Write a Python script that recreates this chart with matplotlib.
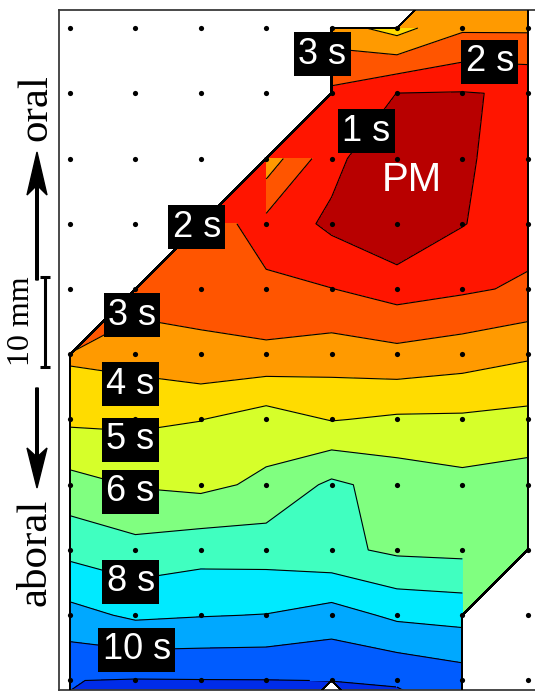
import numpy as np
import matplotlib
matplotlib.use("Agg")
import matplotlib.pyplot as plt
from matplotlib.patches import FancyArrow

nan = np.nan

# electrode grid: 8 columns, rows -1..11 (row 0 = top row of dots)
cols = np.arange(8)
rows = np.arange(-1, 12)

# activation time in seconds per electrode, nan = no recording
act_time = [
    [nan, nan, nan, nan, nan, nan, 3.5, 3.5],              # row -1
    [nan, nan, nan, nan, 3.55, 4.4, 3.15, 3.15],           # row 0
    [nan, nan, nan, nan, 1.8, 0.99, 0.95, 1.1],            # row 1
    [nan, nan, nan, 3.6, 1.32, 0.0, 0.9, 1.35],            # row 2
    [nan, nan, 2.37, 1.7, 0.78, 0.0, 0.955, 1.6],          # row 3
    [nan, 2.5, 2.7, 2.13, 2.02, 1.59, 1.85, 2.15],         # row 4
    [3.82, 3.61, 3.18, 3.245, 3.48, 3.28, 3.52, 3.85],     # row 5
    [4.82, 4.80, 4.98, 5.47, 4.95, 5.15, 5.16, 5.3],       # row 6
    [6.35, 5.93, 5.75, 6.2, 7.2, 6.6, 6.3, 6.5],           # row 7
    [7.72, 7.33, 7.61, 7.56, 7.23, 6.82, 6.74, 6.6],       # row 8
    [9.33, 8.83, 8.95, 9.03, 9.43, 8.80, 8.65, nan],       # row 9
    [10.985, 11.05, 11.03, 11.02, 10.99, 10.9, 10.5, nan], # row 10
    [11.08, 12.0, 12.0, 12.0, nan, 11.9, 11.3, nan],       # row 11
]

# values used only in the half cells along the recording edge
# (row, col, value) -- these cells are filled flat in the original
edge_fix = [(5, 0, 3.02), (2, 3, 1.5), (3, 2, 2.05), (9, 6, 6.8), (0, 5, 3.8)]

fill_levels = [-1, 1, 2, 3, 4, 5, 6, 7, 8, 9, 10, 11, 12.5]
line_levels = [1, 2, 3, 4, 5, 6, 7, 8, 9, 10, 11]
band_colors = ["#B80000", "#FF1500", "#FF5500", "#FF9A00", "#FFDC00",
               "#D6FF2A", "#80FF80", "#40FFC0", "#00EAFF", "#00A8FF",
               "#005CFF", "#002CE8"]

iso_labels = ["3 s", "2 s", "1 s", "2 s", "3 s", "4 s", "5 s", "6 s", "8 s", "10 s"]
label_xy = [(3.86, 0.40), (6.42, 0.52), (4.53, 1.58), (1.94, 3.05), (0.95, 4.40),
            (0.92, 5.46), (0.92, 6.31), (0.92, 7.11), (0.93, 8.49), (1.02, 9.53)]

dot_rows = np.arange(0, 11)

Z = np.ma.masked_invalid(np.array(act_time, dtype=float))
Z_edge = np.array(act_time, dtype=float)
for r, c, v in edge_fix:
    Z_edge[r + 1, c] = v
Z_edge = np.ma.masked_invalid(Z_edge)
X, Y = np.meshgrid(cols, rows)

W, H = 535, 692
fig = plt.figure(figsize=(W / 100, H / 100), dpi=100)
ax = fig.add_axes([59 / W, 2 / H, 476 / W, 680 / H])

# half cells at the edge (shows only where the full-cell layer is absent)
ax.contourf(X, Y, Z_edge, levels=fill_levels, colors=band_colors,
            corner_mask=True, zorder=1)
ax.contour(X, Y, Z_edge, levels=line_levels, colors="k", linewidths=0.8,
           corner_mask=True, zorder=1.5)
# full cells
ax.contourf(X, Y, Z, levels=fill_levels, colors=band_colors,
            corner_mask=False, zorder=2)
ax.contour(X, Y, Z, levels=line_levels, colors="k", linewidths=0.8,
           corner_mask=False, zorder=2.5)

# outline of the recorded area
valid = np.ma.masked_invalid(np.where(np.isfinite(np.array(act_time, dtype=float)), 0.0, nan))
outline = ax.contourf(X, Y, valid, levels=[-1, 1], colors="none",
                      corner_mask=True, zorder=2.6)
outline.set_edgecolor("k")
outline.set_linewidth(0.9)

DX, DY = np.meshgrid(cols, dot_rows)
ax.scatter(DX.ravel(), DY.ravel(), s=14, color="k", zorder=3, linewidths=0)

for txt, (lx, ly) in zip(iso_labels, label_xy):
    ax.text(lx, ly, txt, color="white", fontsize=26, family="Liberation Sans",
            ha="center", va="center", zorder=4,
            bbox=dict(boxstyle="square,pad=0.12", fc="black", ec="none"))
ax.text(5.23, 2.33, "PM", color="white", fontsize=29, family="Liberation Sans",
        ha="center", va="center", zorder=4)

ax.set_xlim(-0.168, 7.111)
ax.set_ylim(10.146, -0.276)
ax.set_xticks([])
ax.set_yticks([])
for side in ["left", "top", "bottom"]:
    ax.spines[side].set_color("#3a3a3a")
    ax.spines[side].set_linewidth(1.3)
ax.spines["right"].set_visible(False)

# orientation marks in the left margin (pixel coordinates)
axl = fig.add_axes([0, 0, 59 / W, 1])
axl.set_xlim(0, 59)
axl.set_ylim(H, 0)
axl.axis("off")

axl.add_patch(FancyArrow(37, 280, 0, -128, width=2.6, head_width=20, head_length=43,
                         length_includes_head=True, overhang=0.2, color="k"))
axl.add_patch(FancyArrow(37, 388, 0, 100, width=2.6, head_width=20, head_length=40,
                         length_includes_head=True, overhang=0.2, color="k"))
axl.plot([45, 45], [277, 367], color="k", lw=2.2, solid_capstyle="butt")
axl.plot([40, 50], [277, 277], color="k", lw=2.2, solid_capstyle="butt")
axl.plot([40, 50], [367, 367], color="k", lw=2.2, solid_capstyle="butt")

serif = "Liberation Serif"
axl.text(36, 108, "oral", rotation=90, ha="center", va="center", fontsize=31, family=serif)
axl.text(22, 321, "10 mm", rotation=90, ha="center", va="center", fontsize=23, family=serif)
axl.text(35, 552, "aboral", rotation=90, ha="center", va="center", fontsize=31, family=serif)

fig.savefig("out.png", dpi=100)
